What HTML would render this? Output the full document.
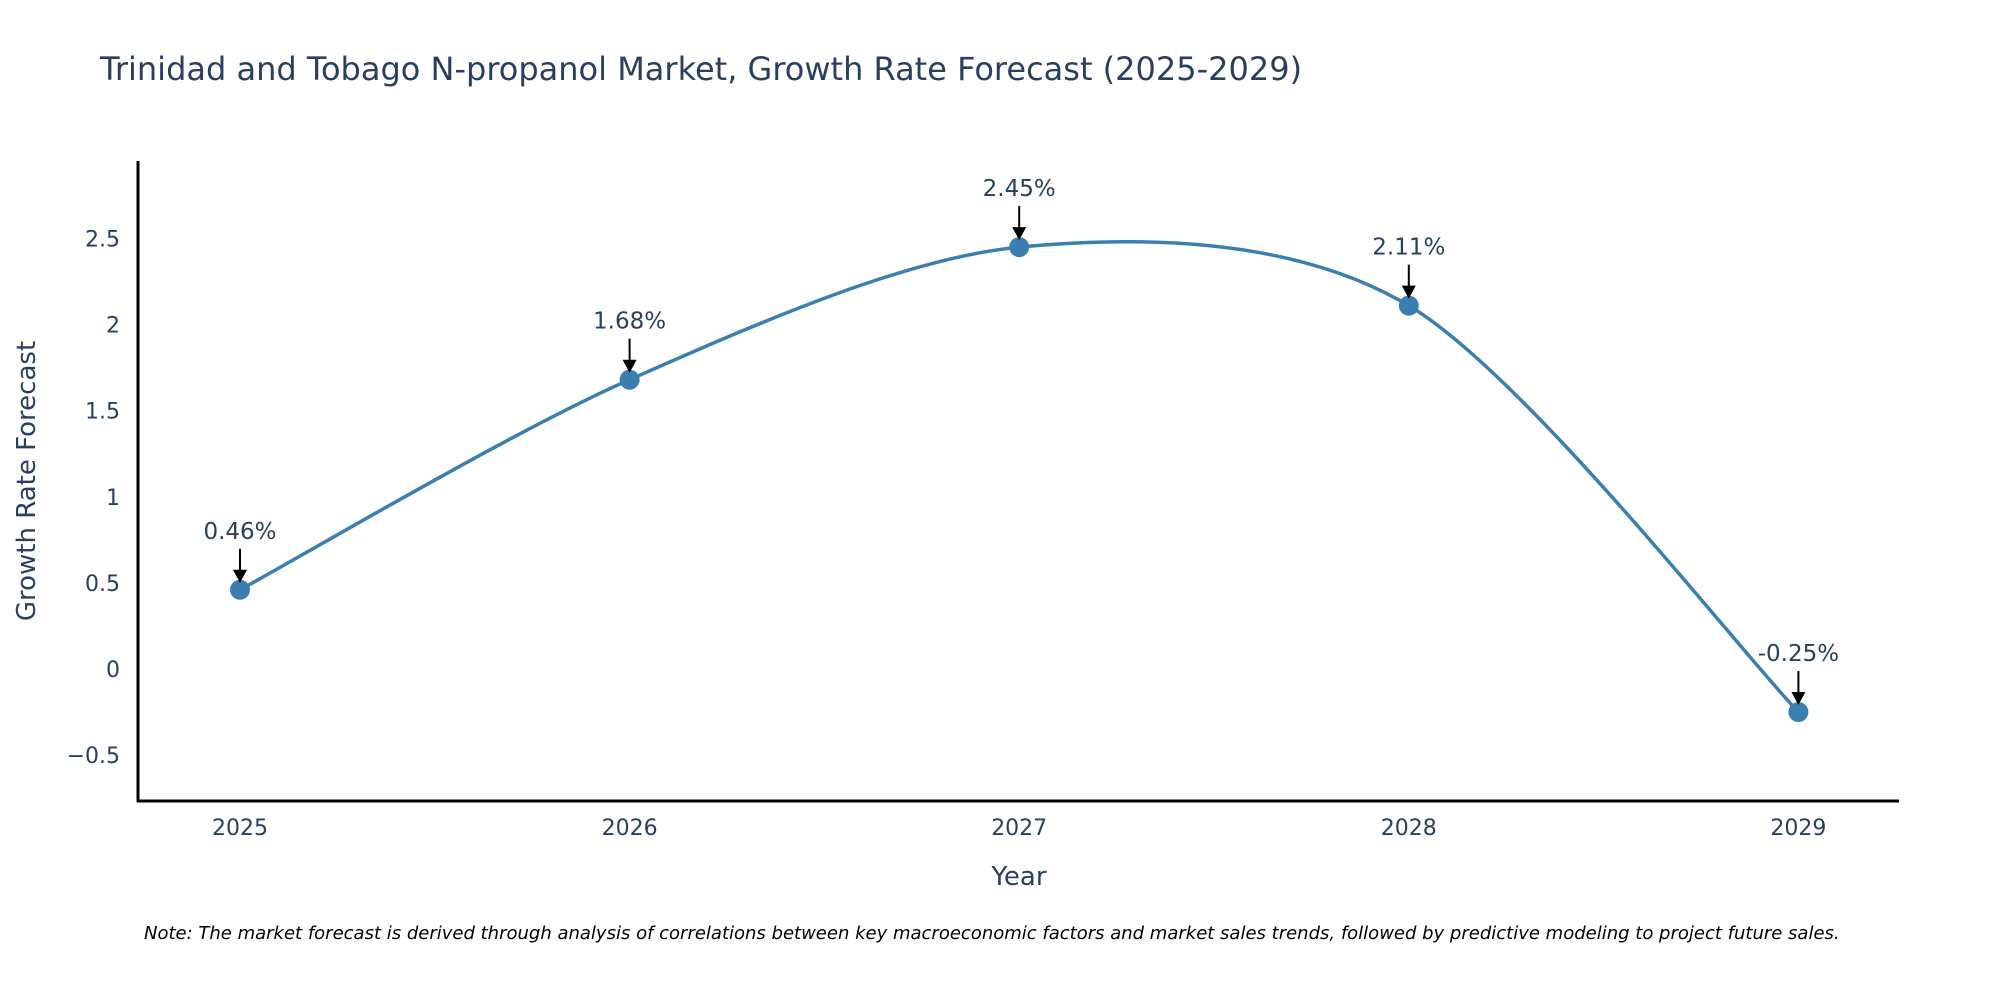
<!DOCTYPE html>
<html><head><meta charset="utf-8"><style>
body{margin:0;background:#fff;}
svg text{font-family:"DejaVu Sans","Liberation Sans",sans-serif;fill:#2a3f5f;}
</style></head><body>
<svg id="chart" width="2000" height="1000" viewBox="0 0 2000 1000" xmlns="http://www.w3.org/2000/svg">
<rect width="2000" height="1000" fill="#fff"/>
<text x="100" y="80" font-size="32">Trinidad and Tobago N-propanol Market, Growth Rate Forecast (2025-2029)</text>
<g id="yticks"></g>
<g id="xticks"></g>
<line x1="138" y1="161" x2="138" y2="802" stroke="#000" stroke-width="3"/>
<line x1="137" y1="801" x2="1899" y2="801" stroke="#000" stroke-width="3"/>
<text transform="translate(35,481) rotate(-90)" text-anchor="middle" font-size="26">Growth Rate Forecast</text>
<text x="1019" y="885" text-anchor="middle" font-size="26">Year</text>
<path id="line" fill="none" stroke="#3a7fb0" stroke-width="3.5"/>
<g id="points"></g>
<text x="144" y="939" font-size="18" font-style="italic" style="fill:#000">Note: The market forecast is derived through analysis of correlations between key macroeconomic factors and market sales trends, followed by predictive modeling to project future sales.</text>
</svg>
<script>
const years = ["2025","2026","2027","2028","2029"];
const values = [0.46, 1.68, 2.45, 2.11, -0.25];
const yTickValues = [-0.5, 0, 0.5, 1, 1.5, 2, 2.5];
const yTickLabels = ["\u22120.5","0","0.5","1","1.5","2","2.5"];
const NS="http://www.w3.org/2000/svg";
function xs(i){return 240 + i*389.6;}
function ys(v){return 669 - v*172.2;}
function mk(tag,attrs,parent){const e=document.createElementNS(NS,tag);for(const k in attrs)e.setAttribute(k,attrs[k]);parent.appendChild(e);return e;}
const yt=document.getElementById('yticks');
yTickValues.forEach((v,i)=>{
  const t=mk('text',{x:120,y:ys(v)+8,'text-anchor':'end','font-size':22},yt);
  t.textContent=yTickLabels[i];
  
  
});
const xt=document.getElementById('xticks');
years.forEach((y,i)=>{
  const t=mk('text',{x:xs(i),y:835,'text-anchor':'middle','font-size':22},xt);
  t.textContent=y;
  
  
});
const pts=values.map((v,i)=>[xs(i),ys(v)]);
let d=`M${pts[0][0]},${pts[0][1]}`;
const s=0.15;
for(let i=0;i<pts.length-1;i++){
  const p0=pts[Math.max(i-1,0)],p1=pts[i],p2=pts[i+1],p3=pts[Math.min(i+2,pts.length-1)];
  const c1=[p1[0]+(p2[0]-p0[0])*s,p1[1]+(p2[1]-p0[1])*s];
  const c2=[p2[0]-(p3[0]-p1[0])*s,p2[1]-(p3[1]-p1[1])*s];
  d+=` C${c1[0]},${c1[1]} ${c2[0]},${c2[1]} ${p2[0]},${p2[1]}`;
}
document.getElementById('line').setAttribute('d',d);
const pg=document.getElementById('points');
values.forEach((v,i)=>{
  const x=xs(i),y=ys(v);
  const c=mk('circle',{cx:x,cy:y,r:10,fill:'#3a7fb0'},pg);
  
  
  const l=mk('line',{x1:x,y1:y-41,x2:x,y2:y-18,stroke:'#000','stroke-width':2},pg);
  
  
  const a=mk('polygon',{points:`${x-7},${y-20} ${x+7},${y-20} ${x},${y-7}`,fill:'#000'},pg);
  
  
  const t=mk('text',{x:x,y:y-51,'text-anchor':'middle','font-size':23},pg);
  t.textContent=v.toFixed(2)+'%';
  
  
});
</script>
</body></html>
